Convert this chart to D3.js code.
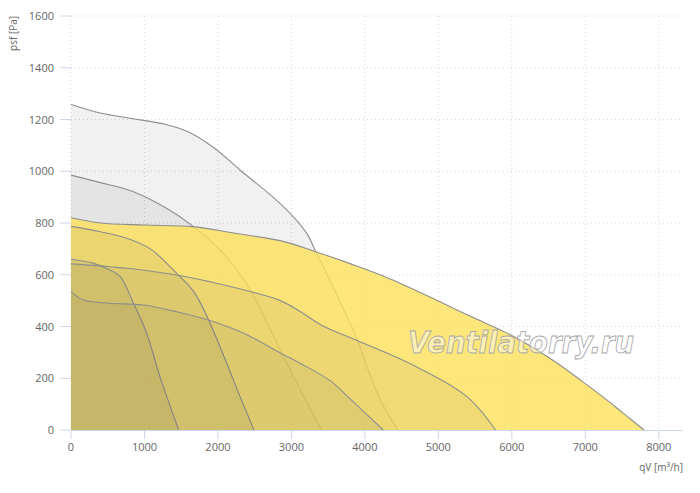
<!DOCTYPE html>
<html><head><meta charset="utf-8">
<script src="https://cdn.jsdelivr.net/npm/d3@7"></script>
<style>
body{margin:0;background:#fff;}
svg{display:block;font-family:"Open Sans","DejaVu Sans",sans-serif;}
</style></head>
<body>
<svg id="c" width="700" height="493"></svg>
<script>
// ---- data (qV [m3/h], psf [Pa]) ----
const xTicks = [0,1000,2000,3000,4000,5000,6000,7000,8000];
const yTicks = [0,200,400,600,800,1000,1200,1400,1600];
const curveGrey1258 = [[0,1258],[400,1225],[800,1205],[1300,1180],[1600,1152],[1950,1090],[2300,1005],[2750,900],[3030,823],[3220,755],[3330,690],[3530,575],[3760,437],[3900,348],[4030,243],[4210,116],[4450,0]];
const curveGrey985 = [[0,985],[400,956],[850,921],[1300,857],[1650,790],[2030,696],[2400,560],[2760,361],[3030,206],[3220,100],[3410,0]];
const curveYellow820 = [[0,820],[400,800],[1000,792],[1650,786],[2200,762],[2900,728],[3320,690],[3800,643],[4250,595],[4900,512],[5250,464],[5650,412],[6000,365],[6250,325],[6600,262],[6950,190],[7250,126],[7520,64],[7800,0]];
const curve790 = [[0,787],[400,766],[760,741],[1080,700],[1440,605],[1670,535],[1850,440],[2120,258],[2300,130],[2490,0]];
const curve660 = [[0,660],[300,645],[500,622],[670,593],[850,490],[1030,374],[1210,206],[1340,100],[1465,0]];
const curve645 = [[0,642],[760,625],[1440,599],[1890,573],[2440,535],[2850,500],[3120,458],[3430,402],[3900,345],[4660,250],[5390,129],[5780,0]];
const curve535 = [[0,535],[170,502],[530,490],[985,483],[1440,457],[1890,423],[2350,374],[2850,298],[3120,258],[3530,190],[3800,120],[4250,0]];
const series = [
  {data: curveGrey1258, fill: "rgba(80,80,80,0.08)"},
  {data: curveGrey985,  fill: "rgba(80,80,80,0.08)"},
  {data: curveYellow820, fill: "rgba(253,224,89,0.8)"},
  {data: curve790, fill: "rgba(80,80,80,0.08)"},
  {data: curve660, fill: "rgba(80,80,80,0.08)"},
  {data: curve645, fill: "rgba(80,80,80,0.08)"},
  {data: curve535, fill: "rgba(80,80,80,0.08)"}
];

const svg = d3.select("#c");
const x = d3.scaleLinear().domain([0,8330]).range([71,683]);
const y = d3.scaleLinear().domain([0,1600]).range([430,16]);

// grid
const g = svg.append("g");
g.selectAll(".hg").data(yTicks.filter(d=>d>0)).join("line")
  .attr("x1",x(0)).attr("x2",683).attr("y1",d=>y(d)).attr("y2",d=>y(d))
  .attr("stroke","#d8d8d8").attr("stroke-width",1).attr("stroke-dasharray","1,3");
g.selectAll(".vg").data(xTicks).join("line")
  .attr("x1",d=>x(d)).attr("x2",d=>x(d)).attr("y1",y(1600)).attr("y2",y(0))
  .attr("stroke","#d8d8d8").attr("stroke-width",1).attr("stroke-dasharray","1,3");

// areas
const crv = d3.curveCatmullRom.alpha(0.5);
const area = d3.area().x(d=>x(d[0])).y0(y(0)).y1(d=>y(d[1])).curve(crv);
const line = d3.line().x(d=>x(d[0])).y(d=>y(d[1])).curve(crv);
series.forEach(s=>{
  svg.append("path").attr("d",area(s.data)).attr("fill",s.fill).attr("stroke","none");
  svg.append("path").attr("d",line(s.data)).attr("fill","none").attr("stroke","#8e8e8e").attr("stroke-width",1.1);
});

// axes
const axisCol = "#ccd6eb";
svg.append("line").attr("x1",x(0)).attr("x2",683).attr("y1",y(0)+0.5).attr("y2",y(0)+0.5).attr("stroke",axisCol);
svg.selectAll(".xt").data(xTicks).join("line")
  .attr("x1",d=>x(d)).attr("x2",d=>x(d)).attr("y1",y(0)).attr("y2",y(0)+9).attr("stroke",axisCol);
svg.selectAll(".yt").data(yTicks).join("line")
  .attr("x1",60).attr("x2",x(0)).attr("y1",d=>y(d)).attr("y2",d=>y(d)).attr("stroke",axisCol);
svg.selectAll(".xl").data(xTicks).join("text")
  .attr("x",d=>x(d)).attr("y",451).attr("text-anchor","middle")
  .attr("font-size",11).attr("fill","#666").text(d=>d);
svg.selectAll(".yl").data(yTicks).join("text")
  .attr("x",54).attr("y",d=>y(d)+4).attr("text-anchor","end")
  .attr("font-size",11).attr("fill","#666").text(d=>d);
svg.append("text").attr("transform","translate(17,16) rotate(-90)").attr("text-anchor","end")
  .attr("font-size",10).attr("fill","#666").text("psf [Pa]");
svg.append("text").attr("x",683).attr("y",471).attr("text-anchor","end")
  .attr("font-size",10).attr("fill","#666").text("qV [m³/h]");

// watermark
svg.append("text").attr("x",408).attr("y",353)
  .attr("font-family","'DejaVu Sans',sans-serif").attr("font-style","italic").attr("font-weight","bold")
  .attr("font-size",30).attr("textLength",226).attr("lengthAdjust","spacingAndGlyphs")
  .attr("fill","rgba(255,255,255,0.45)").attr("stroke","#a8a8a8").attr("stroke-width",0.9)
  .text("Ventilatorry.ru");
</script>
</body></html>
